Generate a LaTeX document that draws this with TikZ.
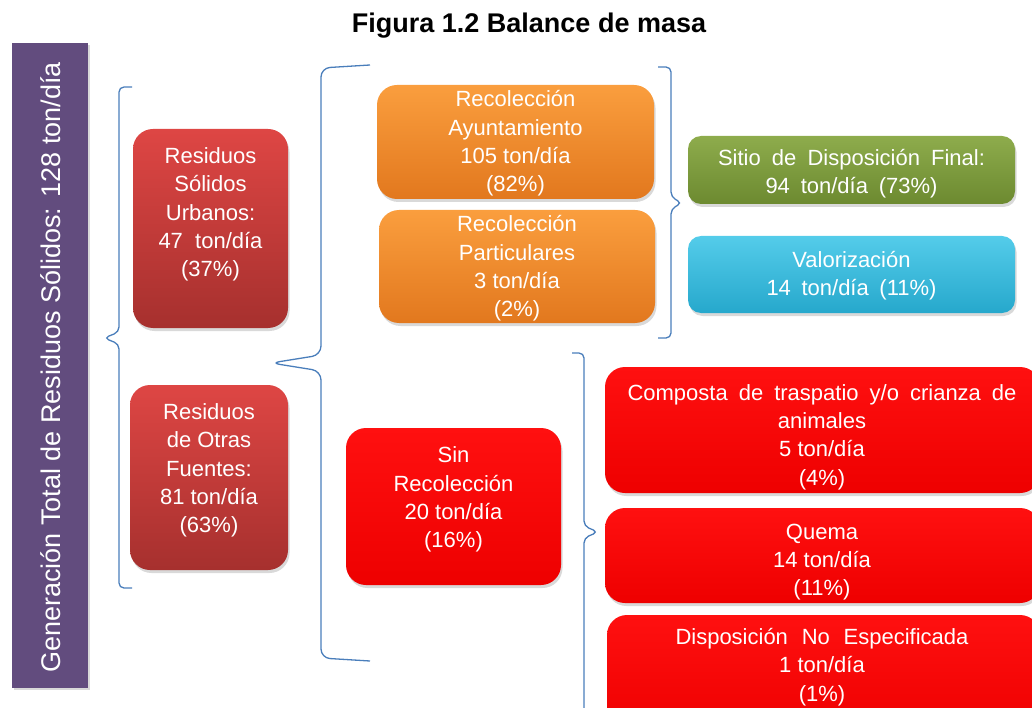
\documentclass[tikz,border=0pt]{standalone}
\usepackage{fontspec}
\setmainfont{Liberation Sans}
\usetikzlibrary{shadows}
\definecolor{brace}{RGB}{74,126,187}
\definecolor{purp}{RGB}{98,76,126}
\definecolor{drtop}{RGB}{222,70,68}
\definecolor{drbot}{RGB}{166,48,46}
\definecolor{ortop}{RGB}{250,158,62}
\definecolor{orbot}{RGB}{226,120,30}
\definecolor{grtop}{RGB}{142,172,76}
\definecolor{grbot}{RGB}{108,138,48}
\definecolor{bltop}{RGB}{84,204,234}
\definecolor{blbot}{RGB}{38,168,204}
\definecolor{rdtop}{RGB}{255,16,16}
\definecolor{rdbot}{RGB}{238,0,0}
\begin{document}
\begin{tikzpicture}[x=1pt,y=-1pt,
  boxbase/.style={rounded corners=20pt, inner sep=0pt, outer sep=0pt,
    drop shadow={shadow xshift=1.5pt, shadow yshift=-3pt, opacity=0.3}},
  darkred/.style={boxbase, top color=drtop, bottom color=drbot},
  orangebox/.style={boxbase, top color=ortop, bottom color=orbot},
  greenbox/.style={boxbase, rounded corners=13pt, top color=grtop, bottom color=grbot},
  bluebox/.style={boxbase, rounded corners=13pt, top color=bltop, bottom color=blbot},
  redbox/.style={boxbase, top color=rdtop, bottom color=rdbot},
  txt/.style={text=white, align=center, inner sep=0pt, font=\fontsize{22}{28.3}\selectfont},
  bracepath/.style={draw=brace, line width=1.3pt, rounded corners=5pt},
]
\useasboundingbox (0,0) rectangle (1032,708);
\begin{scope}
\clip (0,0) rectangle (1032,708);

% title
\node[font=\bfseries\fontsize{27}{30}\selectfont, anchor=base] (title) at (529,33) {Figura 1.2 Balance de masa};

% purple bar
\node[fill=purp, minimum width=76pt, minimum height=645pt, inner sep=0pt,
  drop shadow={shadow xshift=1.5pt, shadow yshift=-2pt, opacity=0.3}] (total) at (50,365.5) {};
\node[text=white, rotate=90, inner sep=0pt, font=\fontsize{27}{30}\selectfont] (totaltxt) at (51,367.5)
  {Generación Total de Residuos Sólidos: 128 ton/día};

% braces
\draw[bracepath] (132,87) -- (119,87) -- (119,332) -- (104,338) -- (119,344) -- (119,588) -- (132,588);
\draw[bracepath, rounded corners=9pt] (370,65) -- (321,68) -- (321,355) -- (271,363) -- (321,371) -- (321,658) -- (370,661);
\draw[bracepath] (658,67) -- (671,67) -- (671,197) -- (682,203) -- (671,209) -- (671,338) -- (658,338);
\draw[bracepath] (572,353) -- (584,353) -- (584,526) -- (598,532) -- (584,538) -- (584,730);

% left column
\node[darkred, minimum width=155pt, minimum height=199pt] (rsu) at (210.5,228.5) {};
\node[txt] (rsutxt) at (210.5,214.5) {Residuos\\Sólidos\\Urbanos:\\47~~ton/día\\(37\%)};
\node[darkred, minimum width=158pt, minimum height=185pt] (rof) at (209,477.5) {};
\node[txt] (roftxt) at (209,470.5) {Residuos\\de Otras\\Fuentes:\\81 ton/día\\(63\%)};

% middle column
\node[orangebox, minimum width=277pt, minimum height=114pt] (ra) at (515.5,142) {};
\node[txt] (ratxt) at (515.5,143.5) {Recolección\\Ayuntamiento\\105 ton/día\\(82\%)};
\node[orangebox, minimum width=276pt, minimum height=113pt] (rp) at (517,266.5) {};
\node[txt] (rptxt) at (517,268.5) {Recolección\\Particulares\\3 ton/día\\(2\%)};
\node[redbox, minimum width=215pt, minimum height=157pt] (sr) at (453.5,506.5) {};
\node[txt] (srtxt) at (453.5,499.5) {Sin\\Recolección\\20 ton/día\\(16\%)};

% right column
\node[greenbox, minimum width=327pt, minimum height=68pt] (sdf) at (851.5,170) {};
\node[txt] (sdftxt) at (851.5,174) {\makebox[267pt][s]{Sitio de Disposición Final:}\\\makebox[172pt][s]{94 ton/día (73\%)}};
\node[bluebox, minimum width=327pt, minimum height=77pt] (val) at (851.5,274.5) {};
\node[txt] (valtxt) at (851.5,276) {Valorización\\\makebox[170pt][s]{14 ton/día (11\%)}};

\node[redbox, minimum width=435pt, minimum height=126pt] (comp) at (822.5,430) {};
\node[txt] (comptxt) at (822,437) {\makebox[389pt][s]{Composta de traspatio y/o crianza de}\\animales\\5 ton/día\\(4\%)};
\node[redbox, minimum width=435pt, minimum height=95pt] (quema) at (822.5,555.5) {};
\node[txt] (quematxt) at (822,562) {Quema\\14 ton/día\\(11\%)};
\node[redbox, minimum width=433pt, minimum height=120pt] (disp) at (823.5,675) {};
\node[txt] (disptxt) at (822,667) {\makebox[293pt][s]{Disposición No Especificada}\\1 ton/día\\(1\%)};
\end{scope}
\end{tikzpicture}
\end{document}
